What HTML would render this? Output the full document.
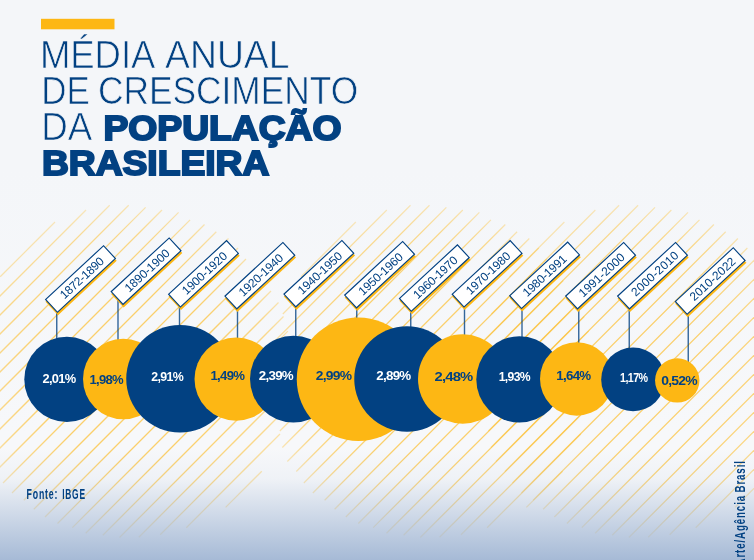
<!DOCTYPE html>
<html lang="pt-BR"><head><meta charset="utf-8"><title>Média anual de crescimento da população brasileira</title>
<style>
html,body{margin:0;padding:0;background:#f4f6f9;}
body{width:754px;height:560px;overflow:hidden;position:relative;font-family:"Liberation Sans",sans-serif;}
svg{position:absolute;left:0;top:0;display:block}
text{font-family:"Liberation Sans",sans-serif;}
</style></head><body>
<svg width="754" height="560" viewBox="0 0 754 560">
<defs>
<linearGradient id="bg" x1="0" y1="0" x2="0" y2="1">
<stop offset="0" stop-color="#f4f6f9"/><stop offset="0.3" stop-color="#f4f6f9"/><stop offset="0.78" stop-color="#f7f8fa"/><stop offset="1" stop-color="#f7f8fa"/>
</linearGradient>
<linearGradient id="fade" x1="0" y1="0" x2="0" y2="1">
<stop offset="0" stop-color="#a6bad6" stop-opacity="0"/><stop offset="0.80" stop-color="#a6bad6" stop-opacity="0"/><stop offset="0.855" stop-color="#a6bad6" stop-opacity="0.1"/><stop offset="1" stop-color="#a6bad6" stop-opacity="1"/>
</linearGradient>
<radialGradient id="hg0" gradientUnits="userSpaceOnUse" cx="131" cy="374" r="176"><stop offset="0" stop-color="#fdb714" stop-opacity="0.62"/><stop offset="0.5" stop-color="#fdb714" stop-opacity="0.62"/><stop offset="0.8" stop-color="#fdb714" stop-opacity="0.48"/><stop offset="0.95" stop-color="#fdb714" stop-opacity="0.3"/><stop offset="1" stop-color="#fdb714" stop-opacity="0.22"/></radialGradient><radialGradient id="hg1" gradientUnits="userSpaceOnUse" cx="431.8" cy="374" r="176"><stop offset="0" stop-color="#fdb714" stop-opacity="0.62"/><stop offset="0.5" stop-color="#fdb714" stop-opacity="0.62"/><stop offset="0.8" stop-color="#fdb714" stop-opacity="0.48"/><stop offset="0.95" stop-color="#fdb714" stop-opacity="0.3"/><stop offset="1" stop-color="#fdb714" stop-opacity="0.22"/></radialGradient><radialGradient id="hg2" gradientUnits="userSpaceOnUse" cx="640.4" cy="374" r="176"><stop offset="0" stop-color="#fdb714" stop-opacity="0.62"/><stop offset="0.5" stop-color="#fdb714" stop-opacity="0.62"/><stop offset="0.8" stop-color="#fdb714" stop-opacity="0.48"/><stop offset="0.95" stop-color="#fdb714" stop-opacity="0.3"/><stop offset="1" stop-color="#fdb714" stop-opacity="0.22"/></radialGradient></defs>
<rect width="754" height="560" fill="url(#bg)"/>
<g stroke-width="1.25" fill="none"><g stroke="url(#hg0)"><path d="M55.0 222.0L0.2 276.8"/><path d="M86.0 210.0L-18.0 314.0"/><path d="M109.7 205.3L-28.0 343.0"/><path d="M128.7 205.3L-31.0 365.0"/><path d="M145.6 207.4L-31.0 384.0"/><path d="M162.0 210.0L-29.0 401.0"/><path d="M178.6 212.4L-25.5 416.5"/><path d="M190.1 219.9L-21.0 431.0"/><path d="M204.5 224.5L-18.5 447.5"/><path d="M216.3 231.7L-13.5 461.5"/><path d="M228.5 238.5L-4.5 471.5"/><path d="M238.0 248.0L3.0 483.0"/><path d="M246.0 259.0L12.0 493.0"/><path d="M254.0 270.0L23.8 500.2"/><path d="M262.5 280.5L33.8 509.2"/><path d="M271.0 291.0L45.0 517.0"/><path d="M278.5 302.5L57.5 523.5"/><path d="M283.5 316.5L72.4 527.6"/><path d="M287.9 331.1L85.7 533.3"/><path d="M291.0 347.0L102.8 535.2"/><path d="M293.0 364.0L119.5 537.5"/><path d="M293.0 383.0L138.8 537.2"/><path d="M290.0 405.0L160.2 534.8"/><path d="M280.0 434.0L186.3 527.7"/><path d="M261.8 471.2L225.6 507.4"/></g><g stroke="url(#hg1)"><path d="M355.8 222.0L301.0 276.8"/><path d="M386.8 210.0L282.8 314.0"/><path d="M410.5 205.3L272.8 343.0"/><path d="M429.5 205.3L269.8 365.0"/><path d="M446.4 207.4L269.8 384.0"/><path d="M462.8 210.0L271.8 401.0"/><path d="M479.4 212.4L275.3 416.5"/><path d="M490.9 219.9L279.8 431.0"/><path d="M505.3 224.5L282.3 447.5"/><path d="M517.1 231.7L287.3 461.5"/><path d="M529.3 238.5L296.3 471.5"/><path d="M538.8 248.0L303.8 483.0"/><path d="M546.8 259.0L312.8 493.0"/><path d="M554.8 270.0L324.6 500.2"/><path d="M563.3 280.5L334.6 509.2"/><path d="M571.8 291.0L345.8 517.0"/><path d="M579.3 302.5L358.3 523.5"/><path d="M584.3 316.5L373.2 527.6"/><path d="M588.7 331.1L386.5 533.3"/><path d="M591.8 347.0L403.6 535.2"/><path d="M593.8 364.0L420.3 537.5"/><path d="M593.8 383.0L439.6 537.2"/><path d="M590.8 405.0L461.0 534.8"/><path d="M580.8 434.0L487.1 527.7"/><path d="M562.6 471.2L526.4 507.4"/></g><g stroke="url(#hg2)"><path d="M564.4 222.0L509.6 276.8"/><path d="M595.4 210.0L491.4 314.0"/><path d="M619.1 205.3L481.4 343.0"/><path d="M638.1 205.3L478.4 365.0"/><path d="M655.0 207.4L478.4 384.0"/><path d="M671.4 210.0L480.4 401.0"/><path d="M688.0 212.4L483.9 416.5"/><path d="M699.5 219.9L488.4 431.0"/><path d="M713.9 224.5L490.9 447.5"/><path d="M725.7 231.7L495.9 461.5"/><path d="M737.9 238.5L504.9 471.5"/><path d="M747.4 248.0L512.4 483.0"/><path d="M755.4 259.0L521.4 493.0"/><path d="M763.4 270.0L533.1 500.3"/><path d="M771.9 280.5L543.1 509.3"/><path d="M780.4 291.0L554.4 517.0"/><path d="M787.9 302.5L566.9 523.5"/><path d="M792.9 316.5L581.8 527.6"/><path d="M797.3 331.1L595.1 533.3"/><path d="M800.4 347.0L612.2 535.2"/><path d="M802.4 364.0L628.9 537.5"/><path d="M802.4 383.0L648.2 537.2"/><path d="M799.4 405.0L669.6 534.8"/><path d="M789.4 434.0L695.7 527.7"/><path d="M771.2 471.2L735.0 507.4"/></g></g>
<rect width="754" height="560" fill="url(#fade)"/>
<rect x="41" y="18.8" width="73.5" height="10.5" fill="#fdb714"/>
<g fill="#024182"><text x="39.93" y="67.6" textLength="115.50" lengthAdjust="spacingAndGlyphs" font-size="38.8" stroke="#f4f6f9" stroke-width="0.7">MÉDIA</text><text x="165.08" y="67.6" textLength="124.44" lengthAdjust="spacingAndGlyphs" font-size="38.8" stroke="#f4f6f9" stroke-width="0.7">ANUAL</text><text x="41.33" y="103.8" textLength="48.55" lengthAdjust="spacingAndGlyphs" font-size="38.8" stroke="#f4f6f9" stroke-width="0.7">DE</text><text x="97.99" y="103.8" textLength="260.23" lengthAdjust="spacingAndGlyphs" font-size="38.8" stroke="#f4f6f9" stroke-width="0.7">CRESCIMENTO</text><text x="41.25" y="140.1" textLength="51.03" lengthAdjust="spacingAndGlyphs" font-size="38.8" stroke="#f4f6f9" stroke-width="0.7">DA</text><text x="103.51" y="139.5" textLength="237.99" lengthAdjust="spacingAndGlyphs" font-size="34.5" font-weight="700" stroke="#024182" stroke-width="2" stroke-linejoin="miter" stroke-miterlimit="6">POPULAÇÃO</text><text x="41.91" y="175.0" textLength="227.40" lengthAdjust="spacingAndGlyphs" font-size="34.5" font-weight="700" stroke="#024182" stroke-width="2" stroke-linejoin="miter" stroke-miterlimit="6">BRASILEIRA</text></g>
<g stroke="#024182" stroke-width="1.4" stroke-opacity="0.8" fill="none"><path d="M56.75 306.9L56.75 339.0"/><path d="M118 299.1L118 340.1"/><path d="M179.5 301.75L179.5 326.0"/><path d="M237.5 303.6L237.5 338.5"/><path d="M295.75 301.6L295.75 336.8"/><path d="M356.75 302.6L356.75 318.5"/><path d="M410.75 306L410.75 327.4"/><path d="M464.5 301.75L464.5 335.3"/><path d="M522 303.25L522 337.4"/><path d="M578.75 303.6L578.75 343.2"/><path d="M629.25 303.6L629.25 348.7"/><path d="M688.25 308.9L688.25 362.1"/></g>
<circle cx="66.9" cy="379.4" r="42.6" fill="#024182"/><circle cx="123.25" cy="379.0" r="40.25" fill="#fdb714"/><circle cx="180.0" cy="378.75" r="53.75" fill="#024182"/><circle cx="236.1" cy="379.1" r="41.6" fill="#fdb714"/><circle cx="293.4" cy="379.1" r="43.4" fill="#024182"/><circle cx="358.45" cy="379.2" r="61.7" fill="#fdb714"/><circle cx="407.0" cy="379.0" r="52.75" fill="#024182"/><circle cx="462.75" cy="379.0" r="44.75" fill="#fdb714"/><circle cx="519.4" cy="379.4" r="43.1" fill="#024182"/><circle cx="576.75" cy="378.9" r="36.75" fill="#fdb714"/><circle cx="633.1" cy="379.4" r="31.9" fill="#024182"/><circle cx="677.25" cy="380.4" r="22.2" fill="#fdb714"/>
<g font-size="13" font-weight="700" letter-spacing="-0.7"><text x="42.5" y="383.25" textLength="33.00" lengthAdjust="spacingAndGlyphs" fill="#fff">2,01%</text><text x="89.5" y="383.75" textLength="33.50" lengthAdjust="spacingAndGlyphs" fill="#024182">1,98%</text><text x="151.25" y="381.25" textLength="31.75" lengthAdjust="spacingAndGlyphs" fill="#fff">2,91%</text><text x="210.5" y="380" textLength="33.75" lengthAdjust="spacingAndGlyphs" fill="#024182">1,49%</text><text x="258.75" y="380" textLength="34.25" lengthAdjust="spacingAndGlyphs" fill="#fff">2,39%</text><text x="315.75" y="380" textLength="35.50" lengthAdjust="spacingAndGlyphs" fill="#024182">2,99%</text><text x="376.25" y="380" textLength="34.25" lengthAdjust="spacingAndGlyphs" fill="#fff">2,89%</text><text x="434.5" y="380.5" textLength="38.00" lengthAdjust="spacingAndGlyphs" fill="#024182">2,48%</text><text x="498.75" y="380.5" textLength="31.25" lengthAdjust="spacingAndGlyphs" fill="#fff">1,93%</text><text x="556.25" y="380" textLength="34.25" lengthAdjust="spacingAndGlyphs" fill="#024182">1,64%</text><text x="620" y="381.75" textLength="27.50" lengthAdjust="spacingAndGlyphs" fill="#fff">1,17%</text><text x="661.25" y="385" textLength="35.75" lengthAdjust="spacingAndGlyphs" fill="#024182">0,52%</text></g>
<g transform="translate(57.4 312.9) rotate(-42.8)"><rect x="-1.1" y="-16.299999999999997" width="80.0" height="18.4" fill="#fdb714"/><rect x="0.5" y="-17.9" width="79.0" height="17.4" fill="#fff" stroke="#024182" stroke-width="1.15"/><text x="14.3" y="-4.9" textLength="55" lengthAdjust="spacing" fill="#024182" font-size="12" font-weight="400">1872-1890</text></g><g transform="translate(123 305.1) rotate(-42.8)"><rect x="-1.1" y="-16.299999999999997" width="80.0" height="18.4" fill="#fdb714"/><rect x="0.5" y="-17.9" width="79.0" height="17.4" fill="#fff" stroke="#024182" stroke-width="1.15"/><text x="13" y="-4.9" textLength="56.5" lengthAdjust="spacing" fill="#024182" font-size="12" font-weight="400">1890-1900</text></g><g transform="translate(180.4 307.75) rotate(-42.8)"><rect x="-1.1" y="-16.299999999999997" width="80.0" height="18.4" fill="#fdb714"/><rect x="0.5" y="-17.9" width="79.0" height="17.4" fill="#fff" stroke="#024182" stroke-width="1.15"/><text x="13" y="-4.9" textLength="56.5" lengthAdjust="spacing" fill="#024182" font-size="12" font-weight="400">1900-1920</text></g><g transform="translate(236.75 309.6) rotate(-42.8)"><rect x="-1.1" y="-16.299999999999997" width="80.0" height="18.4" fill="#fdb714"/><rect x="0.5" y="-17.9" width="79.0" height="17.4" fill="#fff" stroke="#024182" stroke-width="1.15"/><text x="13.3" y="-4.9" textLength="56" lengthAdjust="spacing" fill="#024182" font-size="12" font-weight="400">1920-1940</text></g><g transform="translate(295.75 307.6) rotate(-42.8)"><rect x="-1.1" y="-16.299999999999997" width="80.0" height="18.4" fill="#fdb714"/><rect x="0.5" y="-17.9" width="79.0" height="17.4" fill="#fff" stroke="#024182" stroke-width="1.15"/><text x="13.3" y="-4.9" textLength="56" lengthAdjust="spacing" fill="#024182" font-size="12" font-weight="400">1940-1950</text></g><g transform="translate(356.5 308.6) rotate(-42.8)"><rect x="-1.1" y="-16.299999999999997" width="80.0" height="18.4" fill="#fdb714"/><rect x="0.5" y="-17.9" width="79.0" height="17.4" fill="#fff" stroke="#024182" stroke-width="1.15"/><text x="13.3" y="-4.9" textLength="56" lengthAdjust="spacing" fill="#024182" font-size="12" font-weight="400">1950-1960</text></g><g transform="translate(411.25 312) rotate(-42.8)"><rect x="-1.1" y="-16.299999999999997" width="80.0" height="18.4" fill="#fdb714"/><rect x="0.5" y="-17.9" width="79.0" height="17.4" fill="#fff" stroke="#024182" stroke-width="1.15"/><text x="13.3" y="-4.9" textLength="56" lengthAdjust="spacing" fill="#024182" font-size="12" font-weight="400">1960-1970</text></g><g transform="translate(464 307.75) rotate(-42.8)"><rect x="-1.1" y="-16.299999999999997" width="80.0" height="18.4" fill="#fdb714"/><rect x="0.5" y="-17.9" width="79.0" height="17.4" fill="#fff" stroke="#024182" stroke-width="1.15"/><text x="13.3" y="-4.9" textLength="56" lengthAdjust="spacing" fill="#024182" font-size="12" font-weight="400">1970-1980</text></g><g transform="translate(521.5 309.25) rotate(-42.8)"><rect x="-1.1" y="-16.299999999999997" width="80.0" height="18.4" fill="#fdb714"/><rect x="0.5" y="-17.9" width="79.0" height="17.4" fill="#fff" stroke="#024182" stroke-width="1.15"/><text x="12.3" y="-4.9" textLength="55" lengthAdjust="spacing" fill="#024182" font-size="12" font-weight="400">1980-1991</text></g><g transform="translate(577.5 309.6) rotate(-42.8)"><rect x="-1.1" y="-16.299999999999997" width="80.0" height="18.4" fill="#fdb714"/><rect x="0.5" y="-17.9" width="79.0" height="17.4" fill="#fff" stroke="#024182" stroke-width="1.15"/><text x="12.3" y="-4.9" textLength="58" lengthAdjust="spacing" fill="#024182" font-size="12" font-weight="400">1991-2000</text></g><g transform="translate(629.4 309.6) rotate(-42.8)"><rect x="-1.1" y="-16.299999999999997" width="80.0" height="18.4" fill="#fdb714"/><rect x="0.5" y="-17.9" width="79.0" height="17.4" fill="#fff" stroke="#024182" stroke-width="1.15"/><text x="13.3" y="-4.9" textLength="59.5" lengthAdjust="spacing" fill="#024182" font-size="12" font-weight="400">2000-2010</text></g><g transform="translate(687.1 314.9) rotate(-42.8)"><rect x="-1.1" y="-16.299999999999997" width="80.0" height="18.4" fill="#fdb714"/><rect x="0.5" y="-17.9" width="79.0" height="17.4" fill="#fff" stroke="#024182" stroke-width="1.15"/><text x="14.3" y="-4.9" textLength="57.5" lengthAdjust="spacing" fill="#024182" font-size="12" font-weight="400">2010-2022</text></g>
<g font-size="14.2" fill="#024182" font-weight="700" letter-spacing="1.3"><text x="26.6" y="498.7" textLength="31.6" lengthAdjust="spacingAndGlyphs">Fonte:</text><text x="62.2" y="498.7" textLength="23.6" lengthAdjust="spacingAndGlyphs">IBGE</text></g>
<g transform="translate(745 565.5) rotate(-90)" font-size="14.2" fill="#024182" font-weight="700" letter-spacing="1.3"><text x="0" y="0" textLength="70.5" lengthAdjust="spacingAndGlyphs">Arte/Agência</text><text x="73" y="0" textLength="32.3" lengthAdjust="spacingAndGlyphs">Brasil</text></g>
</svg>
</body></html>
